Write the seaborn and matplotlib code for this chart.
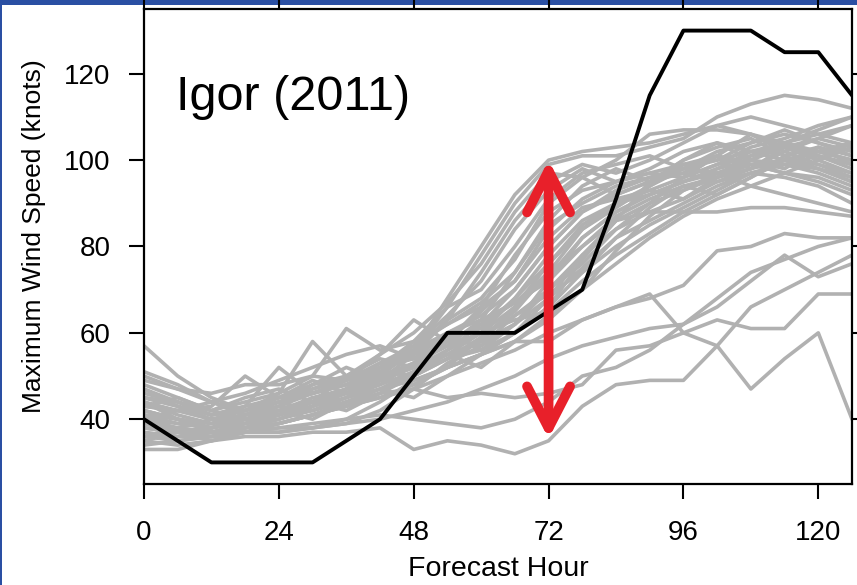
import numpy as np
import pandas as pd
import matplotlib
matplotlib.use("Agg")
import matplotlib.pyplot as plt
import seaborn as sns
from matplotlib.patches import FancyArrowPatch, Rectangle

# ---------------- data ----------------
hours = [0, 6, 12, 18, 24, 30, 36, 42, 48, 54, 60, 66, 72, 78, 84, 90, 96, 102, 108, 114, 120, 126]

observed = [40, 35, 30, 30, 30, 30, 35, 40, 50, 60, 60, 60, 65, 70, 91, 115, 130, 130, 130, 125, 125, 115]

m01 = [45, 43, 41, 42, 44, 46, 48, 52, 56, 68, 80, 92, 100, 102, 103, 104, 106, 108, 110, 108, 106, 104]
m02 = [42, 40, 38, 40, 42, 45, 47, 52, 58, 66, 78, 90, 99, 101, 101, 103, 105, 110, 113, 115, 114, 112]
m03 = [48, 45, 42, 45, 47, 44, 50, 55, 60, 67, 76, 88, 97, 96, 100, 106, 107, 107, 106, 104, 102, 100]
m04 = [38, 37, 36, 38, 40, 43, 46, 50, 56, 63, 74, 86, 95, 99, 97, 100, 104, 108, 106, 103, 105, 108]
m05 = [50, 47, 46, 48, 48, 50, 49, 53, 57, 64, 72, 84, 93, 98, 95, 98, 102, 104, 102, 100, 98, 95]
m06 = [40, 38, 37, 38, 41, 44, 46, 49, 52, 58, 66, 78, 88, 93, 95, 97, 99, 100, 102, 103, 101, 99]
m07 = [44, 41, 39, 41, 43, 42, 45, 48, 53, 57, 63, 74, 85, 90, 94, 96, 98, 97, 100, 104, 107, 110]
m08 = [36, 35, 36, 38, 39, 41, 44, 47, 51, 56, 62, 70, 80, 88, 92, 95, 100, 103, 105, 101, 98, 96]
m09 = [46, 44, 41, 42, 46, 58, 50, 54, 52, 55, 60, 68, 78, 86, 90, 92, 95, 97, 99, 100, 102, 100]
m10 = [41, 40, 39, 41, 44, 47, 50, 52, 54, 58, 65, 72, 82, 89, 91, 93, 96, 99, 101, 103, 100, 97]
m11 = [39, 37, 35, 37, 39, 41, 43, 46, 50, 54, 58, 66, 76, 84, 89, 94, 98, 102, 104, 106, 104, 102]
m12 = [43, 42, 40, 42, 45, 48, 50, 51, 55, 60, 64, 70, 80, 88, 93, 96, 97, 95, 98, 102, 105, 103]
m13 = [47, 44, 42, 44, 46, 50, 61, 56, 58, 62, 66, 72, 84, 91, 95, 97, 96, 99, 103, 105, 108, 110]
m14 = [37, 36, 36, 37, 37, 38, 39, 42, 47, 53, 57, 62, 72, 82, 88, 92, 95, 98, 100, 99, 97, 94]
m15 = [42, 40, 38, 40, 41, 43, 47, 51, 55, 59, 61, 68, 76, 85, 90, 94, 99, 101, 99, 97, 95, 92]
m16 = [45, 43, 41, 43, 45, 46, 49, 55, 63, 58, 62, 67, 74, 80, 86, 90, 93, 96, 98, 100, 99, 96]
m17 = [57, 50, 45, 42, 44, 46, 48, 50, 53, 57, 60, 66, 73, 82, 88, 92, 95, 98, 102, 104, 106, 108]
m18 = [44, 42, 43, 50, 45, 47, 49, 51, 50, 54, 59, 64, 70, 78, 84, 88, 91, 95, 97, 99, 98, 95]
m19 = [45, 44, 41, 43, 52, 46, 49, 53, 56, 60, 63, 67, 72, 80, 87, 91, 94, 96, 100, 103, 102, 100]
m20 = [39, 38, 37, 39, 41, 44, 46, 48, 51, 54, 56, 60, 66, 74, 80, 85, 89, 93, 97, 99, 101, 98]
m21 = [41, 39, 38, 40, 43, 46, 48, 50, 52, 55, 58, 62, 68, 75, 82, 86, 90, 94, 97, 96, 94, 90]
m22 = [36, 36, 37, 37, 37, 38, 40, 44, 49, 52, 55, 58, 64, 70, 76, 82, 87, 91, 94, 92, 90, 88]
m23 = [43, 42, 40, 41, 42, 44, 47, 49, 52, 56, 60, 63, 65, 72, 78, 83, 88, 92, 96, 100, 102, 104]
m24 = [38, 37, 36, 37, 39, 41, 43, 45, 47, 50, 53, 56, 60, 63, 66, 68, 71, 79, 80, 83, 82, 82]
m25 = [40, 39, 38, 39, 40, 42, 44, 46, 47, 45, 46, 45, 46, 48, 56, 57, 60, 63, 61, 61, 69, 69]
m26 = [42, 40, 39, 40, 41, 43, 45, 47, 49, 52, 55, 58, 58, 63, 66, 69, 60, 57, 47, 54, 60, 40]
m27 = [33, 33, 35, 36, 36, 37, 37, 38, 33, 35, 34, 32, 35, 43, 48, 49, 49, 57, 66, 70, 74, 78]
m28 = [35, 34, 35, 37, 38, 39, 40, 41, 40, 39, 38, 40, 44, 50, 52, 56, 62, 66, 72, 78, 73, 76]
m29 = [34, 35, 36, 37, 38, 38, 39, 40, 42, 44, 47, 50, 54, 57, 59, 61, 62, 68, 74, 77, 80, 82]
m30 = [38, 37, 37, 38, 39, 41, 43, 45, 48, 52, 55, 60, 68, 78, 86, 88, 88, 88, 89, 89, 88, 87]
m31 = [49, 47, 44, 46, 49, 52, 55, 57, 54, 60, 56, 62, 70, 76, 84, 90, 96, 101, 98, 103, 100, 104]
m32 = [36, 38, 40, 39, 42, 40, 44, 47, 45, 50, 55, 60, 66, 77, 86, 95, 99, 96, 101, 104, 101, 99]
m33 = [43, 45, 42, 40, 41, 45, 43, 49, 55, 63, 68, 77, 90, 96, 92, 95, 100, 104, 100, 98, 103, 101]
m34 = [40, 42, 44, 41, 43, 48, 52, 49, 53, 59, 57, 64, 69, 74, 82, 89, 94, 92, 96, 101, 103, 99]
m35 = [47, 43, 40, 38, 40, 43, 47, 52, 57, 62, 67, 74, 86, 94, 98, 95, 97, 101, 106, 102, 99, 97]
m36 = [35, 37, 38, 41, 44, 42, 45, 50, 48, 52, 59, 65, 74, 84, 90, 93, 91, 96, 99, 97, 100, 103]
m37 = [44, 40, 37, 39, 42, 44, 42, 46, 51, 55, 52, 58, 63, 70, 79, 87, 93, 97, 94, 97, 96, 93]
m38 = [51, 48, 44, 42, 45, 49, 46, 51, 56, 66, 70, 80, 91, 97, 99, 101, 98, 100, 104, 107, 104, 101]

members = [m01, m02, m03, m04, m05, m06, m07, m08, m09, m10,
           m11, m12, m13, m14, m15, m16, m17, m18, m19, m20,
           m21, m22, m23, m24, m25, m26, m27, m28, m29, m30,
           m31, m32, m33, m34, m35, m36, m37, m38]

x_ticks = [0, 24, 48, 72, 96, 120]
y_ticks = [40, 60, 80, 100, 120]
title_text = "Igor (2011)"
x_label = "Forecast Hour"
y_label = "Maximum Wind Speed (knots)"
arrow_hour = 72
arrow_low, arrow_high = 35.5, 100

# ---------------- build frames ----------------
rows = []
for i, m in enumerate(members):
    for h, v in zip(hours, m):
        rows.append({"hour": h, "wind": v, "member": i})
ens = pd.DataFrame(rows)
obs = pd.DataFrame({"hour": hours, "wind": observed})

# ---------------- style ----------------
sns.set_style("ticks")
plt.rcParams["font.family"] = ["Liberation Sans", "DejaVu Sans"]
plt.rcParams["text.color"] = "black"
plt.rcParams["axes.labelcolor"] = "black"

W, H = 857, 585
fig = plt.figure(figsize=(W / 100, H / 100), dpi=100)
fig.patch.set_facecolor("white")
ax = fig.add_axes([144 / W, 1 - 484 / H, (852 - 144) / W, (484 - 9) / H])

sns.lineplot(data=ens, x="hour", y="wind", units="member", estimator=None,
             color="#b1b1b1", linewidth=2.6, ax=ax, legend=False, zorder=2)
sns.lineplot(data=obs, x="hour", y="wind", color="black", linewidth=2.8, ax=ax,
             legend=False, zorder=3)

ax.set_xlim(0, 126)
ax.set_ylim(25, 135)
ax.set_xticks(x_ticks)
ax.set_yticks(y_ticks)
ax.tick_params(axis="both", which="major", direction="out", length=11, width=1.5,
               labelsize=20, color="black", labelcolor="black",
               top=True, right=True)
ax.tick_params(axis="x", pad=15)
ax.tick_params(axis="y", pad=13)
for s in ax.spines.values():
    s.set_visible(True)
    s.set_linewidth(1.6)
    s.set_color("black")

ax.set_xlabel(x_label, fontsize=20.5, color="black")
ax.set_ylabel(y_label, fontsize=19, color="black")
ax.xaxis.set_label_coords(0.5, -0.152)
ax.yaxis.set_label_coords(-0.139, 0.522)

# red double-headed arrow (annotation)
arr = FancyArrowPatch((arrow_hour, arrow_low), (arrow_hour, arrow_high),
                      arrowstyle="<->,head_length=30,head_width=15.5",
                      mutation_scale=1, lw=7, color="#e8202a",
                      shrinkA=0, shrinkB=0, zorder=6)
arr.set_capstyle("round")
arr.set_joinstyle("round")
ax.add_patch(arr)

# storm label
fig.text(175.5 / W, 1 - 110 / H, title_text, fontsize=35, ha="left",
         va="baseline", color="black")

# slide frame (blue bands)
fig.patches.append(Rectangle((0, 1 - 5 / H), 1, 5 / H, transform=fig.transFigure,
                             facecolor="#2a4fa3", edgecolor="none", zorder=-1))
fig.patches.append(Rectangle((0, 0), 2 / W, 1, transform=fig.transFigure,
                             facecolor="#2a4fa3", edgecolor="none", zorder=-1))

fig.savefig("out.png", dpi=100, facecolor="white")
